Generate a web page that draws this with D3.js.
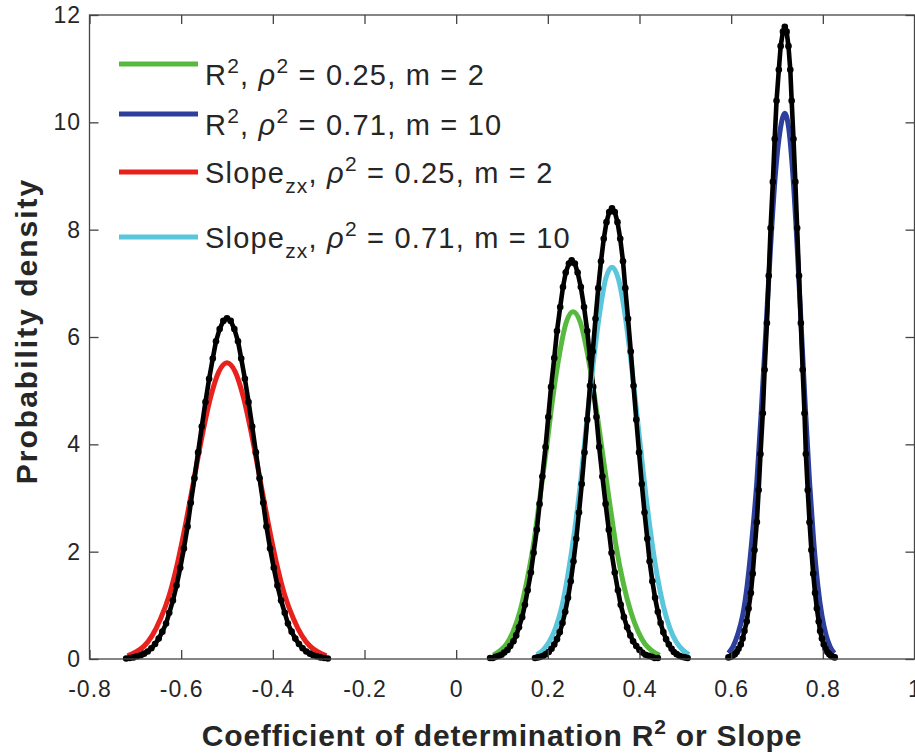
<!DOCTYPE html>
<html>
<head>
<meta charset="utf-8">
<title>Probability density of R2 and slope</title>
<script src="https://d3js.org/d3.v7.min.js"></script>
<style>
    body { margin: 0; background: #fff; }
    svg { display: block; font-family: "Liberation Sans", Arial, Helvetica, sans-serif; }
    .tick text { fill: #262626; font-size: 23px; letter-spacing: 1px; }
    .tick line { stroke: #444; stroke-width: 1.3px; }
    .axis-title { font-weight: bold; fill: #262626; font-size: 30px; letter-spacing: 0.8px; }
    .y-title { letter-spacing: 2px; }
    .legend-text { fill: #262626; font-size: 29px; letter-spacing: 1.2px; }
</style>
</head>
<body>
<div id="chart"></div>
<script>
// axis ticks
const xTicks = [-0.8, -0.6, -0.4, -0.2, 0, 0.2, 0.4, 0.6, 0.8, 1];
const yTicks = [0, 2, 4, 6, 8, 10, 12];

// R^2, rho^2 = 0.25, m = 2 (green, theory) and its simulated curve (black)
const r2LowX = [0.081, 0.095, 0.110, 0.124, 0.139, 0.153, 0.168, 0.182, 0.197, 0.211, 0.226, 0.240, 0.255,
    0.271, 0.286, 0.302, 0.318, 0.334, 0.349, 0.365, 0.381, 0.397, 0.412, 0.428, 0.444];
const r2LowY = [0.07, 0.15, 0.28, 0.51, 0.88, 1.40, 2.10, 2.96, 3.92, 4.88, 5.71, 6.27, 6.47,
    6.27, 5.71, 4.88, 3.92, 2.96, 2.10, 1.40, 0.88, 0.51, 0.28, 0.15, 0.07];
const r2LowSimX = [0.074, 0.080, 0.086, 0.093, 0.099, 0.105, 0.112, 0.118, 0.125, 0.131, 0.137, 0.144, 0.150, 0.156,
    0.163, 0.169, 0.176, 0.182, 0.188, 0.195, 0.201, 0.207, 0.214, 0.220, 0.227, 0.233, 0.239, 0.246, 0.252,
    0.259, 0.265, 0.272, 0.279, 0.286, 0.292, 0.299, 0.306, 0.312, 0.319, 0.326, 0.333, 0.339, 0.346,
    0.353, 0.359, 0.366, 0.373, 0.380, 0.386, 0.393, 0.400, 0.406, 0.413, 0.420, 0.427, 0.433, 0.440];
const r2LowSimY = [0.02, 0.02, 0.04, 0.06, 0.08, 0.12, 0.17, 0.24, 0.33, 0.44, 0.59, 0.78, 1.01, 1.28,
    1.61, 1.98, 2.41, 2.89, 3.40, 3.95, 4.51, 5.07, 5.61, 6.11, 6.56, 6.93, 7.20, 7.37, 7.43,
    7.37, 7.20, 6.93, 6.56, 6.11, 5.61, 5.07, 4.51, 3.95, 3.40, 2.89, 2.41, 1.98, 1.61,
    1.28, 1.01, 0.78, 0.59, 0.44, 0.33, 0.24, 0.17, 0.12, 0.08, 0.06, 0.04, 0.02, 0.02];

// R^2, rho^2 = 0.71, m = 10 (blue)
const r2HighX = [0.594, 0.604, 0.614, 0.625, 0.635, 0.645, 0.656, 0.666, 0.676, 0.686, 0.696, 0.707, 0.717,
    0.726, 0.735, 0.744, 0.753, 0.762, 0.771, 0.780, 0.789, 0.798, 0.807, 0.816, 0.825];
const r2HighY = [0.11, 0.23, 0.45, 0.81, 1.38, 2.20, 3.30, 4.66, 6.17, 7.68, 8.98, 9.86, 10.17,
    9.86, 8.98, 7.68, 6.17, 4.66, 3.30, 2.20, 1.38, 0.81, 0.45, 0.23, 0.11];
const r2HighSimX = [0.594, 0.599, 0.603, 0.608, 0.612, 0.616, 0.621, 0.625, 0.629, 0.634, 0.638, 0.643, 0.647, 0.651,
    0.656, 0.660, 0.664, 0.669, 0.673, 0.678, 0.682, 0.686, 0.691, 0.695, 0.699, 0.704, 0.708, 0.713, 0.717,
    0.721, 0.725, 0.729, 0.732, 0.736, 0.740, 0.744, 0.748, 0.752, 0.756, 0.760, 0.763, 0.767, 0.771,
    0.775, 0.779, 0.783, 0.787, 0.791, 0.794, 0.798, 0.802, 0.806, 0.810, 0.814, 0.818, 0.822, 0.826];
const r2HighSimY = [0.03, 0.04, 0.06, 0.09, 0.13, 0.19, 0.27, 0.38, 0.52, 0.70, 0.94, 1.23, 1.59, 2.03,
    2.55, 3.15, 3.82, 4.58, 5.39, 6.26, 7.14, 8.03, 8.89, 9.69, 10.40, 10.98, 11.42, 11.69, 11.78,
    11.69, 11.42, 10.98, 10.40, 9.69, 8.89, 8.03, 7.14, 6.26, 5.39, 4.58, 3.82, 3.15, 2.55,
    2.03, 1.59, 1.23, 0.94, 0.70, 0.52, 0.38, 0.27, 0.19, 0.13, 0.09, 0.06, 0.04, 0.03];

// Slope_zx, rho^2 = 0.25, m = 2 (red)
const slopeLowX = [-0.717, -0.699, -0.681, -0.663, -0.645, -0.626, -0.608, -0.590, -0.572, -0.554, -0.536, -0.518, -0.500,
    -0.482, -0.464, -0.446, -0.428, -0.410, -0.392, -0.374, -0.355, -0.337, -0.319, -0.301, -0.283];
const slopeLowY = [0.06, 0.13, 0.24, 0.44, 0.75, 1.19, 1.79, 2.53, 3.35, 4.17, 4.87, 5.35, 5.52,
    5.35, 4.87, 4.17, 3.35, 2.53, 1.79, 1.19, 0.75, 0.44, 0.24, 0.13, 0.06];
const slopeLowSimX = [-0.720, -0.712, -0.704, -0.696, -0.688, -0.681, -0.673, -0.665, -0.657, -0.649, -0.641, -0.633, -0.626, -0.618,
    -0.610, -0.602, -0.594, -0.586, -0.579, -0.571, -0.563, -0.555, -0.547, -0.539, -0.531, -0.524, -0.516, -0.508, -0.500,
    -0.492, -0.484, -0.476, -0.469, -0.461, -0.453, -0.445, -0.437, -0.429, -0.421, -0.414, -0.406, -0.398, -0.390,
    -0.382, -0.374, -0.367, -0.359, -0.351, -0.343, -0.335, -0.327, -0.319, -0.312, -0.304, -0.296, -0.288, -0.280];
const slopeLowSimY = [0.01, 0.02, 0.03, 0.05, 0.07, 0.10, 0.14, 0.20, 0.28, 0.38, 0.51, 0.66, 0.86, 1.09,
    1.37, 1.70, 2.06, 2.47, 2.91, 3.37, 3.85, 4.33, 4.79, 5.22, 5.60, 5.92, 6.15, 6.30, 6.35,
    6.30, 6.15, 5.92, 5.60, 5.22, 4.79, 4.33, 3.85, 3.37, 2.91, 2.47, 2.06, 1.70, 1.37,
    1.09, 0.86, 0.66, 0.51, 0.38, 0.28, 0.20, 0.14, 0.10, 0.07, 0.05, 0.03, 0.02, 0.01];

// Slope_zx, rho^2 = 0.71, m = 10 (cyan)
const slopeHighX = [0.176, 0.190, 0.203, 0.217, 0.231, 0.244, 0.258, 0.272, 0.285, 0.299, 0.313, 0.326, 0.340,
    0.354, 0.368, 0.382, 0.396, 0.410, 0.424, 0.438, 0.452, 0.466, 0.480, 0.494, 0.508];
const slopeHighY = [0.08, 0.17, 0.32, 0.58, 0.99, 1.58, 2.37, 3.34, 4.43, 5.51, 6.44, 7.08, 7.30,
    7.08, 6.44, 5.51, 4.43, 3.34, 2.37, 1.58, 0.99, 0.58, 0.32, 0.17, 0.08];
const slopeHighSimX = [0.172, 0.178, 0.184, 0.190, 0.196, 0.202, 0.208, 0.214, 0.220, 0.226, 0.232, 0.238, 0.244, 0.250,
    0.256, 0.262, 0.268, 0.274, 0.280, 0.286, 0.292, 0.298, 0.304, 0.310, 0.316, 0.322, 0.328, 0.334, 0.340,
    0.346, 0.352, 0.358, 0.364, 0.369, 0.375, 0.381, 0.387, 0.393, 0.399, 0.405, 0.411, 0.417, 0.422,
    0.428, 0.434, 0.440, 0.446, 0.452, 0.458, 0.464, 0.470, 0.475, 0.481, 0.487, 0.493, 0.499, 0.505];
const slopeHighSimY = [0.02, 0.03, 0.04, 0.06, 0.09, 0.13, 0.19, 0.27, 0.37, 0.50, 0.67, 0.88, 1.14, 1.45,
    1.82, 2.24, 2.73, 3.26, 3.85, 4.46, 5.09, 5.73, 6.34, 6.91, 7.41, 7.83, 8.14, 8.33, 8.40,
    8.33, 8.14, 7.83, 7.41, 6.91, 6.34, 5.73, 5.09, 4.46, 3.85, 3.26, 2.73, 2.24, 1.82,
    1.45, 1.14, 0.88, 0.67, 0.50, 0.37, 0.27, 0.19, 0.13, 0.09, 0.06, 0.04, 0.03, 0.02];

// legend entries: text pieces (sup / sub / italic)
const legendLabels = [
    [["R"], ["2", "sup"], [", "], ["ρ", "it"], ["2", "sup"], [" = 0.25, m = 2"]],
    [["R"], ["2", "sup"], [", "], ["ρ", "it"], ["2", "sup"], [" = 0.71, m = 10"]],
    [["Slope"], ["zx", "sub"], [", "], ["ρ", "it"], ["2", "sup"], [" = 0.25, m = 2"]],
    [["Slope"], ["zx", "sub"], [", "], ["ρ", "it"], ["2", "sup"], [" = 0.71, m = 10"]]
];
const legendColors = ["#57ba3e", "#2c3f9c", "#e8211d", "#5ac6dc"];

// series in drawing order: theory curve then simulated curve on top
const series = [
    { x: r2LowX, y: r2LowY, color: legendColors[0], sim: false },
    { x: r2LowSimX, y: r2LowSimY, color: "#000", sim: true },
    { x: r2HighX, y: r2HighY, color: legendColors[1], sim: false },
    { x: r2HighSimX, y: r2HighSimY, color: "#000", sim: true },
    { x: slopeLowX, y: slopeLowY, color: legendColors[2], sim: false },
    { x: slopeLowSimX, y: slopeLowSimY, color: "#000", sim: true },
    { x: slopeHighX, y: slopeHighY, color: legendColors[3], sim: false },
    { x: slopeHighSimX, y: slopeHighSimY, color: "#000", sim: true }
];

const width = 915, height = 754;
const margin = { left: 89.5, right: 0.5, top: 15, bottom: 95 };

const svg = d3.select("#chart").append("svg")
    .attr("width", width)
    .attr("height", height);

const x = d3.scaleLinear().domain([-0.8, 1]).range([margin.left, width - margin.right]);
const y = d3.scaleLinear().domain([0, 12]).range([height - margin.bottom, margin.top]);

// curves
const line = d3.line().x(d => x(d[0])).y(d => y(d[1]));

series.forEach(s => {
    const pts = s.x.map((v, i) => [v, s.y[i]]);
    const g = svg.append("g");
    g.append("path")
        .datum(pts)
        .attr("fill", "none")
        .attr("stroke", s.color)
        .attr("stroke-width", s.sim ? 4.6 : 5)
        .attr("stroke-linejoin", "round")
        .attr("d", s.sim ? line.curve(d3.curveLinear)(pts) : line.curve(d3.curveMonotoneX)(pts));
    if (s.sim) {
        g.selectAll("circle")
            .data(pts)
            .join("circle")
            .attr("cx", d => x(d[0]))
            .attr("cy", d => y(d[1]))
            .attr("r", 3.3)
            .attr("fill", "#000");
    }
});

// axes with inward ticks, box on
const fmt = d => String(d);
svg.append("g")
    .attr("transform", `translate(0,${y(0)})`)
    .call(d3.axisBottom(x).tickValues(xTicks).tickSize(-9).tickPadding(22).tickFormat(fmt));
svg.append("g")
    .attr("transform", `translate(0,${y(12)})`)
    .call(d3.axisTop(x).tickValues(xTicks).tickSize(-9).tickFormat(""));
svg.append("g")
    .attr("transform", `translate(${x(-0.8)},0)`)
    .call(d3.axisLeft(y).tickValues(yTicks).tickSize(-9).tickPadding(8.5).tickFormat(fmt));
svg.append("g")
    .attr("transform", `translate(${x(1)},0)`)
    .call(d3.axisRight(y).tickValues(yTicks).tickSize(-9).tickFormat(""));

svg.selectAll(".domain").remove();
svg.selectAll(".tick text").attr("font-family", null).attr("font-size", null);

svg.append("rect")
    .attr("x", x(-0.8))
    .attr("y", y(12))
    .attr("width", x(1) - x(-0.8))
    .attr("height", y(0) - y(12))
    .attr("fill", "none")
    .attr("stroke", "#444")
    .attr("stroke-width", 1.3);

// axis titles
const xTitle = svg.append("text")
    .attr("class", "axis-title")
    .attr("x", (x(-0.8) + x(1)) / 2)
    .attr("y", 746)
    .attr("text-anchor", "middle");
xTitle.append("tspan").text("Coefficient of determination R");
xTitle.append("tspan").attr("dy", -12).attr("font-size", "21px").text("2");
xTitle.append("tspan").attr("dy", 12).text(" or Slope");

svg.append("text")
    .attr("class", "axis-title y-title")
    .attr("transform", `translate(37,${(y(0) + y(12)) / 2 - 6}) rotate(-90)`)
    .attr("text-anchor", "middle")
    .text("Probability density");

// legend (no box)
const legendLineY = [64, 114, 172, 237];
const legend = svg.append("g");
legendLabels.forEach((parts, i) => {
    const ly = legendLineY[i];
    legend.append("line")
        .attr("x1", 119).attr("x2", 198)
        .attr("y1", ly).attr("y2", ly)
        .attr("stroke", legendColors[i])
        .attr("stroke-width", 5);
    const hasSub = parts.some(p => p[1] === "sub");
    const t = legend.append("text")
        .attr("class", "legend-text")
        .attr("x", 205)
        .attr("y", ly + (hasSub ? 11 : 21));
    let shift = 0;
    parts.forEach(p => {
        const kind = p[1];
        const target = kind === "sup" ? -12 : kind === "sub" ? 10 : 0;
        const ts = t.append("tspan").attr("dy", target - shift).text(p[0]);
        shift = target;
        if (kind === "sup" || kind === "sub") ts.attr("font-size", "21px");
        if (kind === "it") ts.attr("font-style", "italic");
    });
});
</script>
</body>
</html>
